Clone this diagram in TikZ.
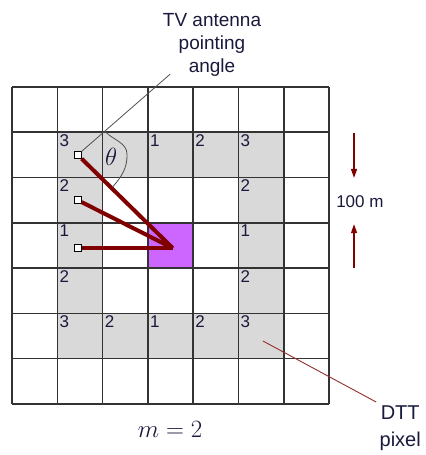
\documentclass[tikz,border=0pt]{standalone}
\usepackage{fontspec}
\setmainfont{Liberation Sans}
\usepackage{xcolor}
\usepackage{tikz}
\usetikzlibrary{arrows.meta}
\definecolor{CellGray}{RGB}{217,217,217}
\definecolor{PixViolet}{RGB}{204,102,255}
\definecolor{BeamRed}{RGB}{128,0,0}
\definecolor{LeadRed}{RGB}{150,45,45}
\definecolor{InkNavy}{RGB}{25,25,60}
\definecolor{AimGray}{RGB}{80,80,80}

\begin{document}
\begin{tikzpicture}[x=45.3pt, y=45.3pt,
          lbl/.style={anchor=north west, inner sep=2pt, text=InkNavy,
                      font=\fontsize{17}{20}\selectfont},
          ant/.style={rectangle, draw=black, fill=white, line width=0.9pt,
                      minimum size=7pt, inner sep=0pt},
          beam/.style={draw=BeamRed, line width=4pt},
          dim/.style={-{Triangle[length=9pt, width=6pt]}, draw=BeamRed, line width=1.3pt},
          note/.style={align=center, text=InkNavy, font=\fontsize{19}{23}\selectfont}
        ]
        \useasboundingbox (-0.265,-1.126) rectangle (9.117,8.918);

        \fill[CellGray] (1,1) rectangle (6,6);
        \fill[white] (2,2) rectangle (5,5);
        \fill[PixViolet] (3,3) rectangle (4,4);
        \draw[line width=1.6pt, black!80, step=1] (0,0) grid (7,7);

        \node[lbl] (t1) at (1,6) {3};
        \node[lbl] (t3) at (3,6) {1};
        \node[lbl] (t4) at (4,6) {2};
        \node[lbl] (t5) at (5,6) {3};
        \node[lbl] (l2) at (1,5) {2};
        \node[lbl] (l3) at (1,4) {1};
        \node[lbl] (l4) at (1,3) {2};
        \node[lbl] (b1) at (1,2) {3};
        \node[lbl] (b2) at (2,2) {2};
        \node[lbl] (b3) at (3,2) {1};
        \node[lbl] (b4) at (4,2) {2};
        \node[lbl] (b5) at (5,2) {3};
        \node[lbl] (r2) at (5,5) {2};
        \node[lbl] (r3) at (5,4) {1};
        \node[lbl] (r4) at (5,3) {2};

        \node[ant] (ant3) at (1.45,5.50) {};
        \node[ant] (ant2) at (1.45,4.50) {};
        \node[ant] (ant1) at (1.45,3.44) {};
        \coordinate (pix) at (3.55,3.44);

        \draw[beam] (ant3) -- (pix);
        \draw[beam] (ant2) -- (pix);
        \draw[beam] (ant1) -- (pix);

        \node[note] (tvlbl) at (4.415,7.93) {TV antenna\\pointing\\angle};
        \coordinate (aim) at (3.49,7.28);
        \draw[AimGray, line width=0.8pt] (ant3) -- (aim);
        \draw[AimGray, line width=0.8pt] (2.05,6.02) to[out=-47, in=90] (2.54,5.50)
              to[out=-90, in=49] (2.22,4.79);
        \node[text=InkNavy, font=\fontsize{23}{24}\selectfont] (theta) at (2.19,5.45)
              {$\theta$};

        \coordinate (dtop) at (7.55,5.98);
        \coordinate (dbot) at (7.55,3.00);
        \draw[dim] (dtop) -- (7.55,4.99);
        \draw[dim] (dbot) -- (7.55,3.97);
        \node[note, font=\fontsize{17}{20}\selectfont] (size) at (7.68,4.46) {100 m};

        \node[note, font=\fontsize{20}{27}\selectfont] (dtt) at (8.57,-0.53) {DTT\\pixel};
        \coordinate (dttpt) at (5.54,1.39);
        \draw[LeadRed, line width=0.9pt] (dttpt) -- (dtt.north west);

        \node[text=InkNavy, font=\fontsize{25}{28}\selectfont] (mval) at (3.49,-0.57)
              {$m = 2$};
      \end{tikzpicture}
\end{document}
